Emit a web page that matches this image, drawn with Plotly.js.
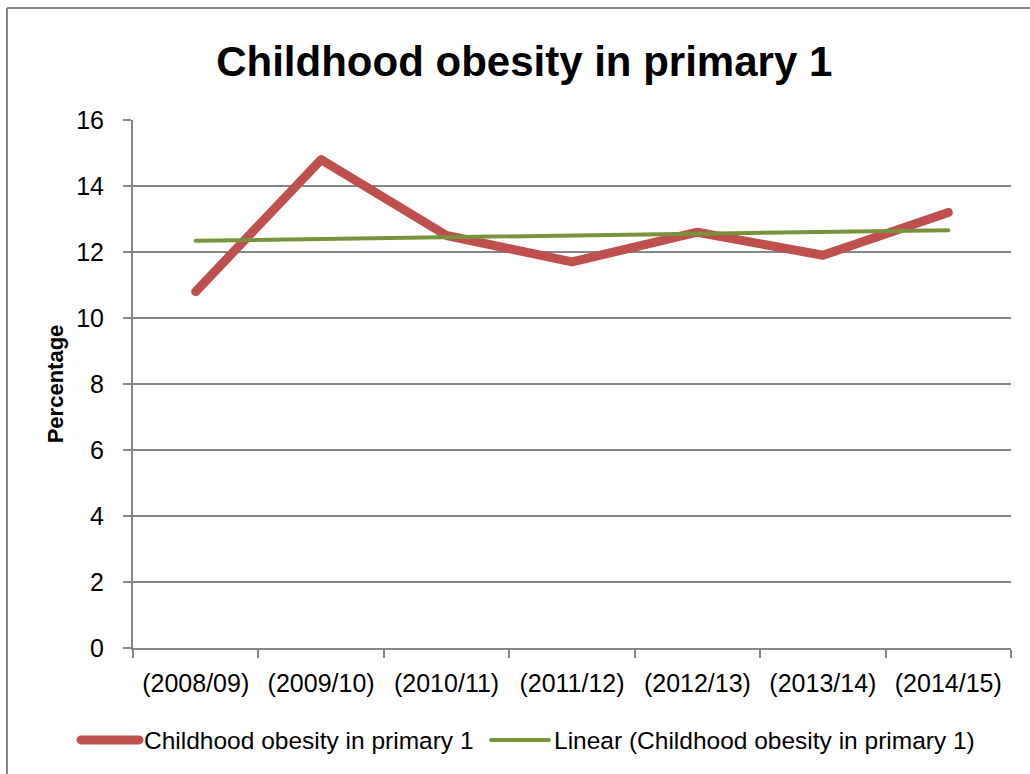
<!DOCTYPE html>
<html>
<head>
<meta charset="utf-8">
<script src="https://cdn.plot.ly/plotly-3.0.1.min.js"></script>
<style>
html,body{margin:0;padding:0;background:#fff;}
#chart{width:1030px;height:774px;}
.js-line{stroke-linecap:round;stroke-linejoin:round;}
</style>
</head>
<body>
<div id="chart"></div>
<script>
const categories = ["(2008/09)", "(2009/10)", "(2010/11)", "(2011/12)", "(2012/13)", "(2013/14)", "(2014/15)"];
const obesity = [10.8, 14.8, 12.5, 11.7, 12.6, 11.9, 13.2];
const trendCategories = ["(2008/09)", "(2014/15)"];
const trendValues = [12.34, 12.66];
const seriesName = "Childhood obesity in primary 1";
const trendName = "Linear (Childhood obesity in primary 1)";
const titleText = "Childhood obesity in primary 1";
const yTitle = "Percentage";

const font = "Liberation Sans, Arial, sans-serif";
const gray = "#868686";

const traces = [
  {x: categories, y: obesity, type: "scatter", mode: "lines", name: seriesName,
   line: {color: "#C0504D", width: 9}, legend: "legend"},
  {x: trendCategories, y: trendValues, type: "scatter", mode: "lines", name: trendName,
   line: {color: "#77933C", width: 4}, legend: "legend2"}
];

const legendBase = {orientation: "h", xref: "container", yref: "container", xanchor: "left",
  y: 34/774, yanchor: "middle", itemwidth: 58,
  font: {family: font, size: 24.5, color: "#000"}, bgcolor: "rgba(0,0,0,0)"};

const layout = {
  width: 1030, height: 774,
  paper_bgcolor: "#fff", plot_bgcolor: "#fff",
  margin: {l: 133, r: 19, t: 120, b: 126},
  font: {family: font, size: 25, color: "#000"},
  title: {text: titleText, font: {family: font, size: 42, weight: "bold", color: "#000"},
          xref: "container", x: 0.509, xanchor: "center", yref: "container", y: 1 - 61/774, yanchor: "middle"},
  xaxis: {type: "category", categoryorder: "array", categoryarray: categories,
          range: [-0.5, 6.5], showgrid: false, zeroline: false,
          showline: true, linecolor: gray, linewidth: 2,
          ticks: "outside", tickson: "boundaries", ticklen: 8, tickcolor: gray, tickwidth: 2,
          ticklabelstandoff: 12,
          tickfont: {family: font, size: 25, color: "#000"}, fixedrange: true},
  yaxis: {range: [0, 16], dtick: 2, tick0: 0, showgrid: true, gridcolor: gray, gridwidth: 1.5,
          zeroline: false, showline: true, linecolor: gray, linewidth: 2,
          ticks: "outside", ticklen: 8, tickcolor: gray, tickwidth: 2, ticklabelstandoff: 14,
          tickfont: {family: font, size: 25, color: "#000"},
          title: {text: yTitle, font: {family: font, size: 22, weight: "bold", color: "#000"}, standoff: 6},
          fixedrange: true},
  showlegend: true,
  legend: Object.assign({}, legendBase, {x: 76/1030}),
  legend2: Object.assign({}, legendBase, {x: 486/1030}),
  shapes: [
    {type: "line", xref: "paper", yref: "paper", x0: (7-133)/878, x1: 2, y0: (648-8)/528, y1: (648-8)/528,
     line: {color: gray, width: 2}},
    {type: "line", xref: "paper", yref: "paper", x0: (7-133)/878, x1: (7-133)/878, y0: (648-8)/528, y1: -1,
     line: {color: gray, width: 2}}
  ]
};

Plotly.newPlot("chart", traces, layout, {displayModeBar: false, staticPlot: true});
</script>
</body>
</html>
